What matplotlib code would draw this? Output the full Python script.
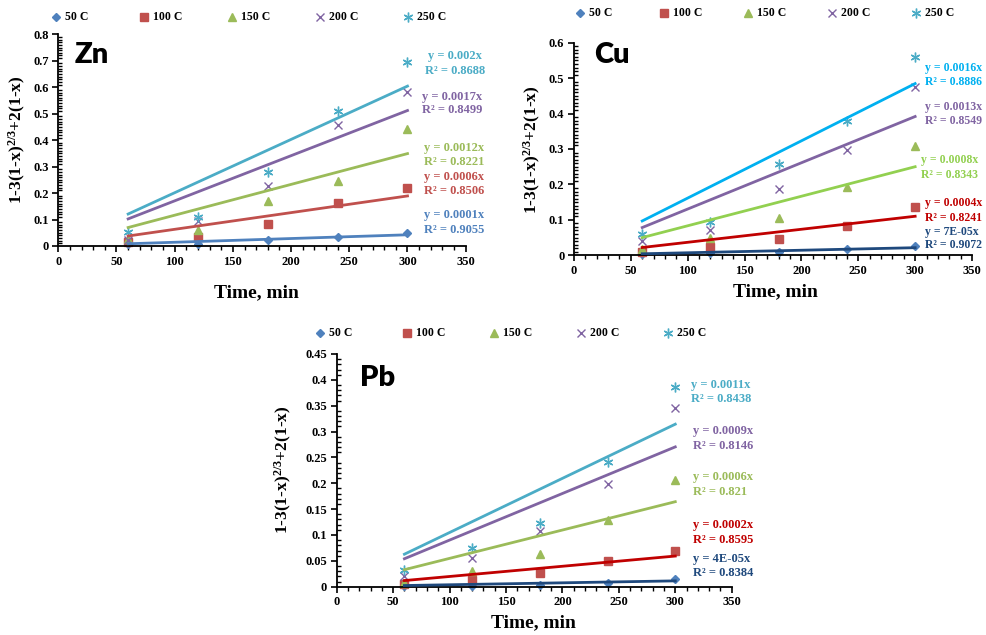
import numpy as np
import matplotlib
matplotlib.use("Agg")
import matplotlib.pyplot as plt
from matplotlib.lines import Line2D
from matplotlib.ticker import MultipleLocator, FuncFormatter

plt.rcParams['font.family'] = ['Liberation Serif', 'DejaVu Serif']
plt.rcParams['font.weight'] = 'bold'
plt.rcParams['mathtext.fontset'] = 'custom'
plt.rcParams['mathtext.rm'] = 'Liberation Serif:bold'
plt.rcParams['mathtext.it'] = 'Liberation Serif:bold'
plt.rcParams['mathtext.bf'] = 'Liberation Serif:bold'

# ---- data ----
time_min = [60, 120, 180, 240, 300]
series_labels = ["50 C", "100 C", "150 C", "200 C", "250 C"]

zn_50 = [0.007, 0.009, 0.023, 0.033, 0.048]
zn_100 = [0.016, 0.035, 0.083, 0.164, 0.218]
zn_150 = [0.025, 0.060, 0.169, 0.246, 0.441]
zn_200 = [0.023, 0.096, 0.228, 0.457, 0.581]
zn_250 = [0.052, 0.111, 0.281, 0.511, 0.697]
zn_eq = ["y = 0.0001x", "y = 0.0006x", "y = 0.0012x", "y = 0.0017x", "y = 0.002x"]
zn_r2 = ["R² = 0.9055", "R² = 0.8506", "R² = 0.8221", "R² = 0.8499", "R² = 0.8688"]

cu_50 = [0.004, 0.006, 0.009, 0.017, 0.025]
cu_100 = [0.010, 0.024, 0.046, 0.084, 0.136]
cu_150 = [0.017, 0.050, 0.104, 0.194, 0.309]
cu_200 = [0.039, 0.071, 0.188, 0.296, 0.476]
cu_250 = [0.059, 0.093, 0.257, 0.380, 0.559]
cu_eq = ["y = 7E-05x", "y = 0.0004x", "y = 0.0008x", "y = 0.0013x", "y = 0.0016x"]
cu_r2 = ["R² = 0.9072", "R² = 0.8241", "R² = 0.8343", "R² = 0.8549", "R² = 0.8886"]

pb_50 = [0.001, 0.002, 0.004, 0.008, 0.015]
pb_100 = [0.005, 0.012, 0.026, 0.050, 0.069]
pb_150 = [0.008, 0.031, 0.064, 0.129, 0.206]
pb_200 = [0.021, 0.056, 0.108, 0.198, 0.345]
pb_250 = [0.032, 0.075, 0.124, 0.242, 0.387]
pb_eq = ["y = 4E-05x", "y = 0.0002x", "y = 0.0006x", "y = 0.0009x", "y = 0.0011x"]
pb_r2 = ["R² = 0.8384", "R² = 0.8595", "R² = 0.821", "R² = 0.8146", "R² = 0.8438"]

# ---- styles ----
marker_colors = ["#4F81BD", "#C0504D", "#9BBB59", "#8064A2", "#4BACC6"]
markers = ["D", "s", "^", "x", (6, 2, 0)]
marker_sizes = [4, 6, 6, 6, 7]

zn_line_colors = ["#4F81BD", "#C0504D", "#9BBB59", "#8064A2", "#4BACC6"]
cu_line_colors = ["#1F497D", "#C00000", "#92D050", "#8064A2", "#00B0F0"]
pb_line_colors = ["#1F497D", "#C00000", "#9BBB59", "#8064A2", "#4BACC6"]

W, H = 987, 635
fig = plt.figure(figsize=(W / 100, H / 100), dpi=100)


def px_rect(left, right, bottom, top):
    return [left / W, 1 - bottom / H, (right - left) / W, (bottom - top) / H]


def draw_panel(rect, series, line_colors, eqs, r2s, ymax, ystep, yminor, title,
               title_xy, eq_pos, eq_ha, eq_size, legend_y, legend_x0, legend_dx,
               xlabel_xy, ylabel_xy):
    ax = fig.add_axes(rect)
    t = np.array(time_min, dtype=float)
    for i, ys in enumerate(series):
        y = np.array(ys)
        ax.plot(t, y, linestyle="none", marker=markers[i], ms=marker_sizes[i],
                color=marker_colors[i], mec=marker_colors[i], mew=1.0,
                zorder=2, clip_on=False)
        # linear trend forced through the origin
        k = np.sum(t * y) / np.sum(t * t)
        ax.plot(t, k * t, color=line_colors[i], lw=2.0, zorder=3)
    ax.set_xlim(0, 350)
    ax.set_ylim(0, ymax)
    ax.xaxis.set_major_locator(MultipleLocator(50))
    ax.xaxis.set_minor_locator(MultipleLocator(10))
    ax.yaxis.set_major_locator(MultipleLocator(ystep))
    ax.yaxis.set_minor_locator(MultipleLocator(yminor))
    for s in ["top", "right"]:
        ax.spines[s].set_visible(False)
    for s in ["left", "bottom"]:
        ax.spines[s].set_linewidth(1.3)
    ax.tick_params(axis="both", which="major", direction="out", length=4,
                   width=1.2, labelsize=9, pad=3)
    ax.tick_params(axis="x", which="minor", direction="out", length=3, width=1.0)
    ax.tick_params(axis="y", which="minor", direction="in", length=3, width=1.0)
    ax.yaxis.set_major_formatter(FuncFormatter(lambda v, p: "%g" % round(v, 4)))
    for lab in ax.get_xticklabels() + ax.get_yticklabels():
        lab.set_fontweight("bold")

    fig.text(title_xy[0] / W, 1 - title_xy[1] / H, title, family="Lato",
             fontweight="heavy", fontsize=21, ha="left", va="center")
    fig.text(xlabel_xy[0] / W, 1 - xlabel_xy[1] / H, "Time, min", fontsize=14,
             fontweight="bold", ha="center", va="center")
    fig.text(ylabel_xy[0] / W, 1 - ylabel_xy[1] / H,
             r"1-3(1-x)$^{\mathrm{2/3}}$+2(1-x)", fontsize=12.5,
             fontweight="bold", rotation=90, ha="center", va="center")

    for i in range(5):
        x, y1, y2 = eq_pos[i]
        fig.text(x / W, 1 - y1 / H, eqs[i], color=line_colors[i],
                 fontsize=eq_size, fontweight="bold", ha=eq_ha, va="center")
        fig.text(x / W, 1 - y2 / H, r2s[i], color=line_colors[i],
                 fontsize=eq_size, fontweight="bold", ha=eq_ha, va="center")

    for i in range(5):
        mx = legend_x0 + legend_dx * i
        fig.add_artist(Line2D([mx / W], [1 - legend_y / H], linestyle="none",
                              marker=markers[i], ms=marker_sizes[i],
                              color=marker_colors[i], mew=1.0))
        fig.text((mx + 9) / W, 1 - legend_y / H, series_labels[i], fontsize=8.5,
                 fontweight="bold", ha="left", va="center")
    return ax


draw_panel(px_rect(58.3, 465.7, 246, 34.3),
           [zn_50, zn_100, zn_150, zn_200, zn_250], zn_line_colors, zn_eq, zn_r2,
           0.8, 0.1, 0.01, "Zn", (75, 55),
           [(454, 215, 230), (454, 177, 191), (454, 148, 162), (452, 97, 110),
            (455, 56, 71)], "center", 9,
           17, 56, 88, (256, 293), (17, 140))

draw_panel(px_rect(574, 972, 255.3, 42.7),
           [cu_50, cu_100, cu_150, cu_200, cu_250], cu_line_colors, cu_eq, cu_r2,
           0.6, 0.1, 0.01, "Cu", (594, 55),
           [(925, 232, 245), (925, 203, 218), (921, 160, 175), (925, 107, 121),
            (925, 68, 82)], "left", 8.5,
           13, 580, 84, (775, 292), (532, 150))

draw_panel(px_rect(336.7, 731.7, 586.7, 354),
           [pb_50, pb_100, pb_150, pb_200, pb_250], pb_line_colors, pb_eq, pb_r2,
           0.45, 0.05, 0.01, "Pb", (360, 378),
           [(693, 559, 573), (693, 525, 540), (693, 477, 492), (693, 431, 446),
            (691, 385, 399)], "left", 9,
           333, 320, 87, (533, 623), (283, 470))

fig.savefig("out.png", dpi=100)
